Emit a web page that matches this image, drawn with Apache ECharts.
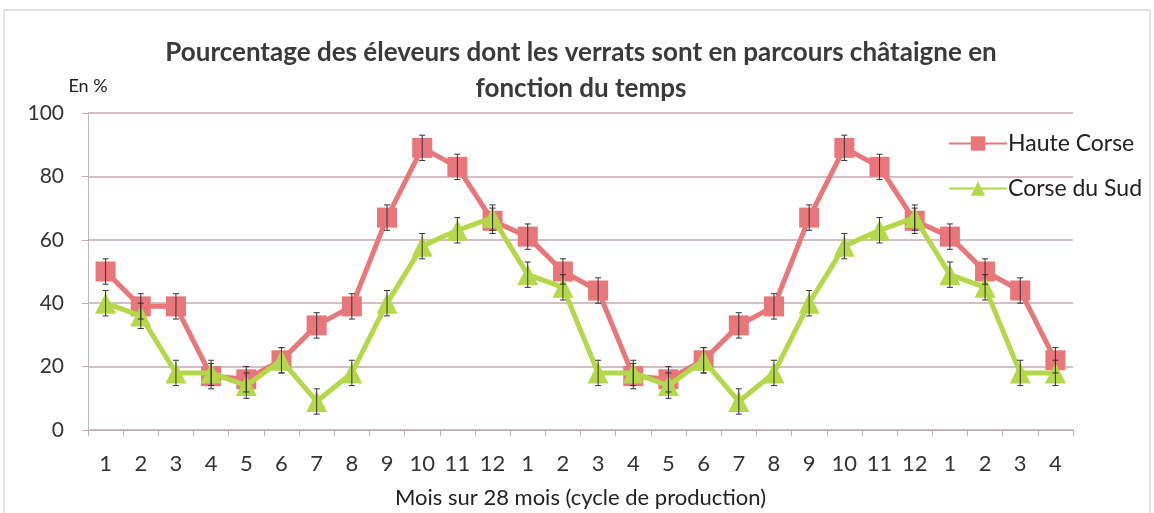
<!DOCTYPE html>
<html>
<head>
<meta charset="utf-8">
<script src="https://cdn.jsdelivr.net/npm/echarts@6/dist/echarts.min.js"></script>
<style>
  html, body { margin: 0; padding: 0; background: #fff; }
  #chart { width: 1154px; height: 513px; }
</style>
</head>
<body>
<div id="chart"></div>
<script>
const months = ['1','2','3','4','5','6','7','8','9','10','11','12',
  '1','2','3','4','5','6','7','8','9','10','11','12','1','2','3','4'];
const hauteCorse = [50, 39, 39, 17, 16, 22, 33, 39, 67, 89, 83, 66,
  61, 50, 44, 17, 16, 22, 33, 39, 67, 89, 83, 66, 61, 50, 44, 22];
const corseDuSud = [40, 36, 18, 18, 14, 22, 9, 18, 40, 58, 63, 67,
  49, 45, 18, 18, 14, 22, 9, 18, 40, 58, 63, 67, 49, 45, 18, 18];
const hauteErr = [4, 4, 4, 4, 4, 4, 4, 4, 4, 4, 4, 4,
  4, 4, 4, 4, 4, 4, 4, 4, 4, 4, 4, 4, 4, 4, 4, 4];
const sudErr = [4, 4, 4, 4, 4, 4, 4, 4, 4, 4, 4, 4,
  4, 4, 4, 4, 4, 4, 4, 4, 4, 4, 4, 4, 4, 4, 4, 4];
const yTicks = [0, 20, 40, 60, 80, 100];

const red = '#e8767a';
const green = '#b4d84a';
const font = 'Lato, "Open Sans", sans-serif';

// error bars drawn as a custom series: [index, value, err]
function errorData(vals, errs) {
  return vals.map((v, i) => [i, v, errs[i]]);
}
function renderError(params, api) {
  const x = api.value(0);
  const v = api.value(1);
  const e = api.value(2);
  const top = api.coord([x, v + e]);
  const bot = api.coord([x, v - e]);
  const cap = 3;
  const style = { stroke: '#333', lineWidth: 1 };
  return {
    type: 'group',
    children: [
      { type: 'line', shape: { x1: top[0], y1: top[1], x2: bot[0], y2: bot[1] }, style },
      { type: 'line', shape: { x1: top[0] - cap, y1: top[1], x2: top[0] + cap, y2: top[1] }, style },
      { type: 'line', shape: { x1: bot[0] - cap, y1: bot[1], x2: bot[0] + cap, y2: bot[1] }, style }
    ]
  };
}

const chart = echarts.init(document.getElementById('chart'));
chart.setOption({
  animation: false,
  textStyle: { fontFamily: font },
  graphic: [{
    type: 'rect',
    shape: { x: 4, y: 10, width: 1146, height: 510 },
    style: { fill: 'none', stroke: '#c8c8c8', lineWidth: 1 },
    silent: true
  }],
  title: {
    text: 'Pourcentage des éleveurs dont les verrats sont en parcours châtaigne en\nfonction du temps',
    left: 576,
    textAlign: 'center',
    top: 30,
    textStyle: { fontFamily: font, fontSize: 26, fontWeight: 'bold', color: '#3a3a3a', lineHeight: 36 }
  },
  legend: {
    orient: 'vertical',
    left: 943,
    top: 127,
    itemWidth: 58,
    itemHeight: 18,
    itemGap: 22,
    data: ['Haute Corse', 'Corse du Sud'],
    textStyle: { fontFamily: font, fontSize: 23, color: '#222', padding: [0, 0, 0, -4] }
  },
  grid: { left: 88, right: 81, top: 113, bottom: 83, containLabel: false, outerBoundsMode: 'none' },
  xAxis: {
    type: 'category',
    data: months,
    name: 'Mois sur 28 mois (cycle de production)',
    nameLocation: 'middle',
    nameGap: 57,
    nameTextStyle: { fontFamily: font, fontSize: 22, color: '#222' },
    axisLine: { lineStyle: { color: '#b0b0b0' } },
    axisTick: { show: true, length: 6, lineStyle: { color: '#b0b0b0' } },
    axisLabel: { fontFamily: font, fontSize: 22, color: '#333', margin: 23 }
  },
  yAxis: {
    type: 'value',
    min: yTicks[0],
    max: yTicks[yTicks.length - 1],
    interval: 20,
    name: 'En %',
    nameLocation: 'end',
    nameGap: 18,
    nameTextStyle: { fontFamily: font, fontSize: 18, color: '#222', align: 'center' },
    axisLine: { show: true, lineStyle: { color: '#b8b8b8' } },
    axisTick: { show: true, length: 6, lineStyle: { color: '#c4aab2' } },
    axisLabel: { fontFamily: font, fontSize: 21, color: '#333', margin: 24 },
    splitLine: { lineStyle: { color: '#c4aab2', width: 1.5 } }
  },
  series: [
    {
      name: 'Haute Corse',
      type: 'line',
      data: hauteCorse,
      symbol: 'rect',
      symbolSize: 20,
      lineStyle: { color: red, width: 5 },
      itemStyle: { color: red },
      z: 3
    },
    {
      name: 'Corse du Sud',
      type: 'line',
      data: corseDuSud,
      symbol: 'triangle',
      symbolSize: 21,
      lineStyle: { color: green, width: 5 },
      itemStyle: { color: green },
      z: 4
    },
    {
      type: 'custom',
      renderItem: renderError,
      data: errorData(hauteCorse, hauteErr),
      encode: { x: 0, y: 1 },
      z: 5,
      silent: true
    },
    {
      type: 'custom',
      renderItem: renderError,
      data: errorData(corseDuSud, sudErr),
      encode: { x: 0, y: 1 },
      z: 5,
      silent: true
    }
  ]
});
</script>
</body>
</html>
